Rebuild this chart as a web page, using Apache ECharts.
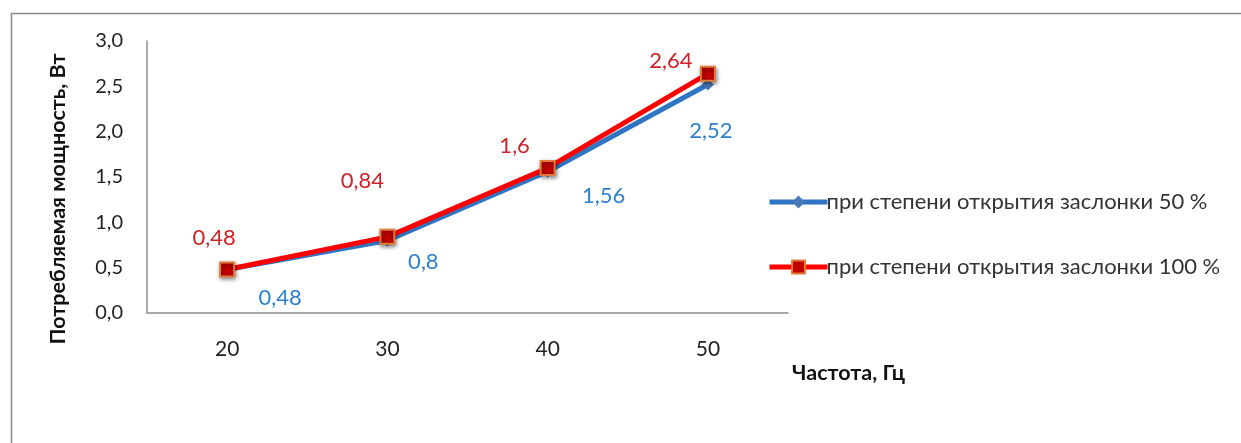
<!DOCTYPE html>
<html><head><meta charset="utf-8">
<script src="https://cdn.jsdelivr.net/npm/echarts@6/dist/echarts.min.js"></script>
<style>html,body{margin:0;padding:0;background:#fff}#c{width:1241px;height:443px}</style>
</head><body><div id="c"></div>
<script>
const categories = ['20', '30', '40', '50'];
const series50 = [0.48, 0.8, 1.56, 2.52];
const series100 = [0.48, 0.84, 1.6, 2.64];
const seriesNames = ['при степени открытия заслонки 50 %', 'при степени открытия заслонки 100 %'];
const yAxisTitle = 'Потребляемая мощность, Вт';
const xAxisTitle = 'Частота, Гц';

const FONT = 'Lato, "Open Sans", sans-serif';
const fmt = v => String(v).replace('.', ',');
// manual label placements (relative to marker), like the original chart
const blueOffsets = [[53, 28], [36, 21], [56, 24], [3, 46]];
const redOffsets = [[-13, -32], [-25, -56], [-33, -22], [-37, -13]];

const chart = echarts.init(document.getElementById('c'), null, {renderer: 'canvas'});
chart.setOption({
  animation: false,
  backgroundColor: '#fff',
  grid: {left: 147, top: 41, width: 641, height: 272, containLabel: false},
  legend: {
    orient: 'vertical', left: 762, top: 186, itemGap: 43,
    itemWidth: 58, itemHeight: 16,
    textStyle: {fontFamily: FONT, fontSize: 22, color: '#333', padding: [0, 0, 0, -6]},
    data: [
      {name: seriesNames[0], lineStyle: {width: 5}},
      {name: seriesNames[1], lineStyle: {width: 5}}
    ]
  },
  xAxis: {
    type: 'category', data: categories, boundaryGap: true,
    axisLine: {lineStyle: {color: '#8e8e8e', width: 1.5}},
    axisTick: {show: false},
    axisLabel: {fontFamily: FONT, fontSize: 21, color: '#222', margin: 26}
  },
  yAxis: {
    type: 'value', min: 0, max: 3, interval: 0.5,
    axisLine: {show: true, lineStyle: {color: '#8e8e8e', width: 1.5}},
    axisTick: {show: false},
    splitLine: {show: false},
    axisLabel: {fontFamily: FONT, fontSize: 20, color: '#222', margin: 24,
      formatter: v => v.toFixed(1).replace('.', ',')}
  },
  graphic: [
    {type: 'rect', left: 9, top: 11, shape: {width: 1400, height: 600}, silent: true,
     style: {fill: 'none', stroke: '#8a8a8a', lineWidth: 1.5}, z: -1},
    {type: 'text', x: 58, y: 199, rotation: Math.PI / 2,
     style: {text: yAxisTitle, fontFamily: FONT, fontWeight: 'bold', fontSize: 21.5,
       fill: '#111', align: 'center', verticalAlign: 'middle'}},
    {type: 'text', x: 792, y: 373,
     style: {text: xAxisTitle, fontFamily: FONT, fontWeight: 'bold', fontSize: 21.5,
       fill: '#111', align: 'left', verticalAlign: 'middle'}}
  ],
  series: [
    {
      name: seriesNames[0], type: 'line', z: 2,
      data: series50.map((v, i) => ({value: v, label: {offset: blueOffsets[i]}})),
      lineStyle: {color: '#2E75C4', width: 5},
      itemStyle: {color: '#4A78B8'},
      symbol: 'diamond', symbolSize: 12,
      label: {show: true, position: 'inside', formatter: p => fmt(p.value),
        fontFamily: FONT, fontSize: 22, color: '#2F80CE'}
    },
    {
      name: seriesNames[1], type: 'line', z: 3,
      data: series100.map((v, i) => ({value: v, label: {offset: redOffsets[i]}})),
      lineStyle: {color: '#FF0000', width: 5},
      itemStyle: {color: '#C00000', borderColor: '#E07B39', borderWidth: 2,
        shadowColor: 'rgba(0,0,0,0.45)', shadowBlur: 4, shadowOffsetX: 1, shadowOffsetY: 2},
      symbol: 'rect', symbolSize: 14,
      label: {show: true, position: 'inside', formatter: p => fmt(p.value),
        fontFamily: FONT, fontSize: 22, color: '#CC2229'}
    }
  ]
});
</script></body></html>
